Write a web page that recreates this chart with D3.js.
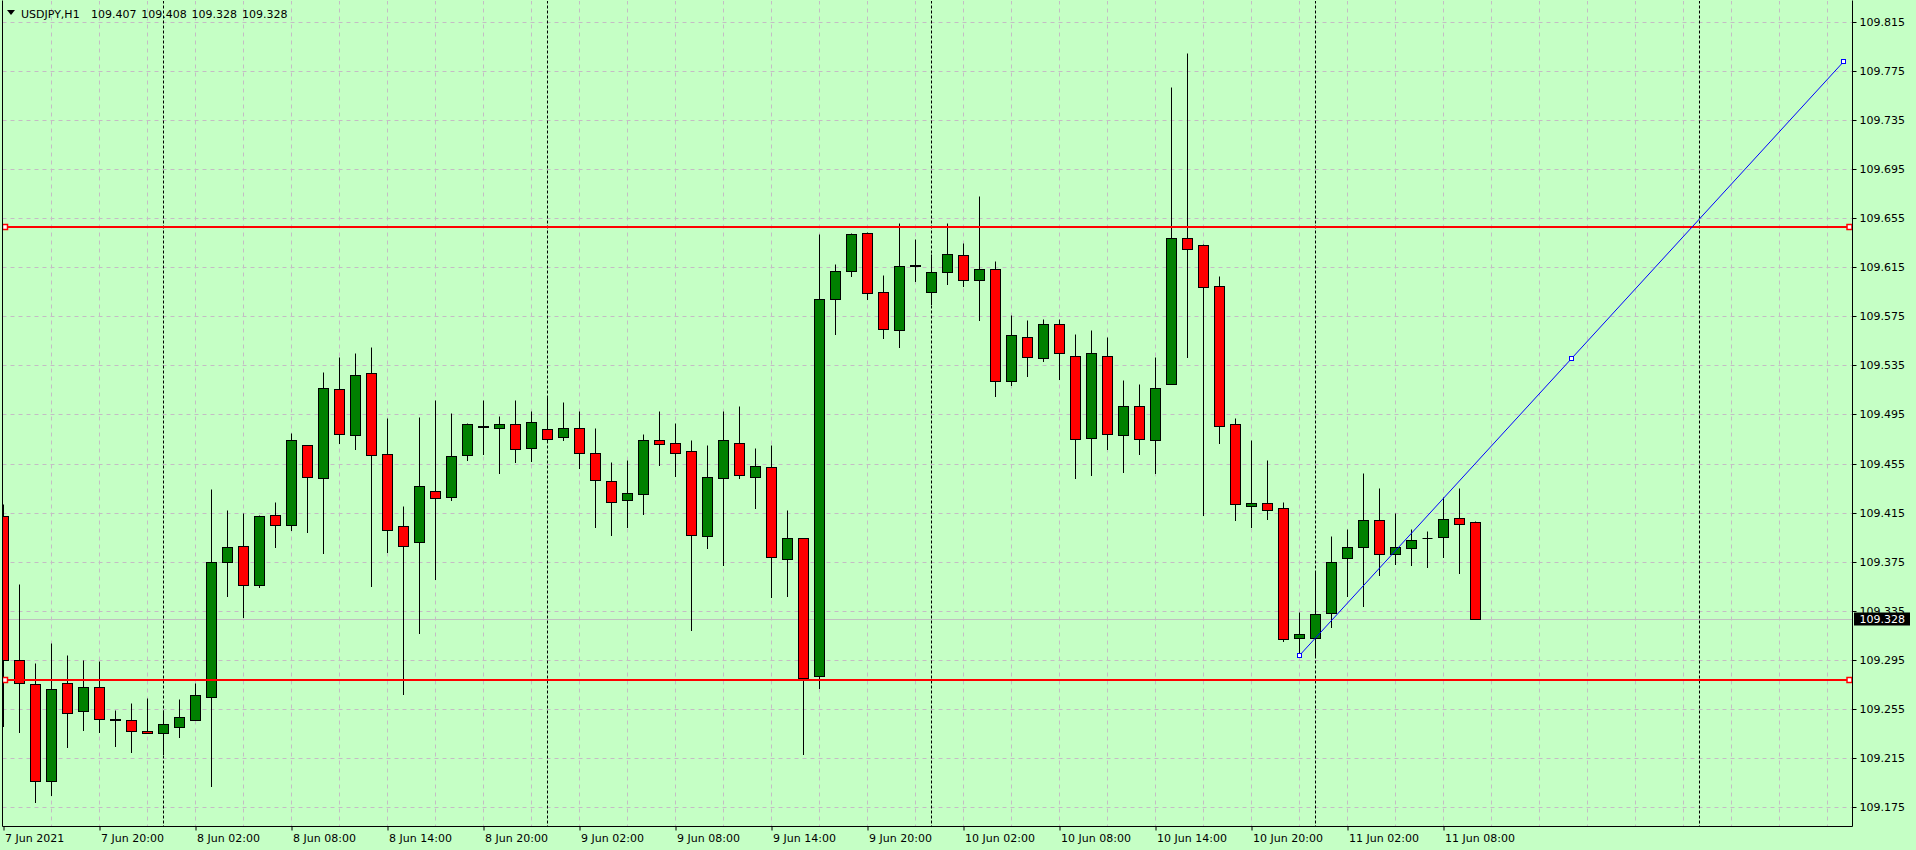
<!DOCTYPE html>
<html><head><meta charset="utf-8">
<script src="https://cdn.jsdelivr.net/npm/d3@7"></script>
<style>
html,body{margin:0;padding:0;background:#c5ffc5;overflow:hidden;}
svg{display:block;}
text{font-family:"DejaVu Sans",sans-serif;font-size:11px;}
</style></head><body>
<svg id="chart" width="1916" height="850"></svg>
<script>
// ---------------- data ----------------
const symbol = "USDJPY,H1";
const headerValues = ["109.407", "109.408", "109.328", "109.328"];
const open = [109.412,109.295,109.275,109.196,109.276,109.253,109.273,109.247,109.246,109.237,
109.235,109.240,109.246,109.265,109.375,109.388,109.356,109.413,109.405,109.470,
109.443,109.516,109.478,109.529,109.463,109.404,109.391,109.433,109.428,109.462,
109.486,109.484,109.487,109.468,109.483,109.477,109.484,109.464,109.441,109.425,
109.430,109.474,109.472,109.465,109.396,109.443,109.472,109.444,109.452,109.377,
109.394,109.282,109.589,109.612,109.643,109.595,109.564,109.616,109.595,109.611,
109.625,109.605,109.614,109.522,109.558,109.541,109.569,109.543,109.476,109.543,
109.478,109.502,109.474,109.520,109.639,109.633,109.600,109.487,109.420,109.423,
109.419,109.313,109.313,109.333,109.378,109.387,109.409,109.381,109.386,109.394,
109.395,109.411,109.407];
const high = [109.422,109.357,109.292,109.309,109.299,109.295,109.294,109.254,109.260,109.264,
109.254,109.263,109.276,109.434,109.417,109.415,109.413,109.424,109.480,109.470,
109.530,109.542,109.545,109.550,109.492,109.420,109.493,109.507,109.496,109.488,
109.507,109.494,109.507,109.498,109.509,109.505,109.498,109.484,109.456,109.458,
109.479,109.498,109.488,109.474,109.470,109.498,109.502,109.468,109.470,109.417,
109.394,109.642,109.618,109.643,109.644,109.609,109.651,109.638,109.626,109.651,
109.635,109.673,109.620,109.576,109.572,109.573,109.573,109.561,109.564,109.558,
109.523,109.520,109.542,109.762,109.790,109.634,109.608,109.492,109.474,109.458,
109.424,109.334,109.367,109.396,109.402,109.447,109.435,109.415,109.402,109.400,
109.428,109.435,109.408];
const low = [109.241,109.236,109.179,109.185,109.224,109.238,109.236,109.225,109.220,109.235,
109.218,109.232,109.246,109.192,109.347,109.330,109.354,109.387,109.401,109.399,
109.382,109.472,109.467,109.355,109.383,109.267,109.317,109.361,109.425,109.458,
109.463,109.447,109.456,109.457,109.474,109.474,109.451,109.403,109.397,109.403,
109.414,109.454,109.445,109.319,109.386,109.372,109.443,109.419,109.346,109.347,
109.218,109.272,109.561,109.608,109.589,109.557,109.550,109.604,109.585,109.601,
109.600,109.572,109.510,109.519,109.526,109.539,109.524,109.443,109.446,109.467,
109.448,109.463,109.447,109.520,109.542,109.413,109.472,109.409,109.403,109.410,
109.310,109.299,109.297,109.322,109.347,109.339,109.364,109.373,109.372,109.371,
109.379,109.366,109.328];
const close = [109.295,109.276,109.196,109.271,109.252,109.273,109.247,109.246,109.237,109.235,
109.243,109.248,109.266,109.375,109.387,109.356,109.412,109.405,109.474,109.444,
109.517,109.479,109.527,109.462,109.401,109.388,109.437,109.427,109.461,109.487,
109.485,109.487,109.467,109.489,109.475,109.484,109.464,109.442,109.424,109.431,
109.474,109.471,109.464,109.397,109.444,109.474,109.446,109.453,109.379,109.394,
109.280,109.589,109.612,109.642,109.594,109.565,109.616,109.617,109.611,109.626,
109.605,109.614,109.522,109.560,109.542,109.569,109.545,109.475,109.545,109.479,
109.502,109.475,109.517,109.639,109.630,109.599,109.486,109.422,109.423,109.417,
109.312,109.316,109.332,109.375,109.387,109.409,109.381,109.387,109.393,109.394,
109.410,109.406,109.328];
const xTickLabels = ["7 Jun 2021","7 Jun 20:00","8 Jun 02:00","8 Jun 08:00","8 Jun 14:00",
"8 Jun 20:00","9 Jun 02:00","9 Jun 08:00","9 Jun 14:00","9 Jun 20:00","10 Jun 02:00",
"10 Jun 08:00","10 Jun 14:00","10 Jun 20:00","11 Jun 02:00","11 Jun 08:00"];
const xTickBars = [0,6,12,18,24,30,36,42,48,54,60,66,72,78,84,90];
const daySeparatorBars = [10,34,58,82,106];
const yTickValues = [109.175,109.215,109.255,109.295,109.335,109.375,109.415,109.455,109.495,
109.535,109.575,109.615,109.655,109.695,109.735,109.775,109.815];
const hLevels = [109.648, 109.279];
const trendBars = [81, 98, 115];
const trendPrices = [109.299, 109.541, 109.783];
const lastPrice = 109.328;

// ---------------- layout ----------------
const W = 1916, H = 850;
const plotL = 2.5, plotR = 1852.5, plotT = 0.5, plotB = 826.5;
const N = open.length;
const bg = "#c5ffc5", gridColor = "#c4bcc4";

const svg = d3.select("#chart");
svg.append("rect").attr("width", W).attr("height", H).attr("fill", bg);

const x = d3.scaleLinear().domain([0, 1]).range([3.5, 19.5]);
const y = d3.scaleLinear().domain([109.175, 109.815]).range([807.5, 22.5]);
const snap = v => Math.round(v - 0.5) + 0.5;

svg.append("defs").append("clipPath").attr("id", "clip")
  .append("rect").attr("x", 3).attr("y", 1).attr("width", plotR - 3).attr("height", plotB - 1);

const plot = svg.append("g").attr("clip-path", "url(#clip)");

// grid
const gridBars = d3.range(3, 116, 3);
plot.append("g").selectAll("line").data(gridBars).join("line")
  .attr("x1", d => x(d)).attr("x2", d => x(d)).attr("y1", plotT).attr("y2", plotB)
  .attr("stroke", gridColor).attr("stroke-dasharray", "4,4");
plot.append("g").selectAll("line").data(yTickValues).join("line")
  .attr("x1", plotL).attr("x2", plotR).attr("y1", d => snap(y(d))).attr("y2", d => snap(y(d)))
  .attr("stroke", gridColor).attr("stroke-dasharray", "4,4");

// day separators
plot.append("g").selectAll("line").data(daySeparatorBars).join("line")
  .attr("x1", d => x(d)).attr("x2", d => x(d)).attr("y1", plotT).attr("y2", plotB)
  .attr("stroke", "#000").attr("stroke-dasharray", "3,2");

// last price line
plot.append("line").attr("x1", plotL).attr("x2", plotR)
  .attr("y1", snap(y(lastPrice))).attr("y2", snap(y(lastPrice)))
  .attr("stroke", "#c0c0c0");

// candles
const idx = d3.range(N);
plot.append("g").selectAll("line").data(idx).join("line")
  .attr("x1", i => x(i)).attr("x2", i => x(i))
  .attr("y1", i => snap(y(high[i]))).attr("y2", i => snap(y(low[i])) + 0.5)
  .attr("stroke", "#000");
plot.append("g").selectAll("rect").data(idx.filter(i => open[i] !== close[i])).join("rect")
  .attr("x", i => x(i) - 5).attr("width", 10)
  .attr("y", i => snap(y(Math.max(open[i], close[i]))))
  .attr("height", i => Math.max(1, snap(y(Math.min(open[i], close[i]))) - snap(y(Math.max(open[i], close[i])))))
  .attr("fill", i => close[i] > open[i] ? "#008000" : "#ff0000")
  .attr("stroke", "#000");
plot.append("g").selectAll("line").data(idx.filter(i => open[i] === close[i])).join("line")
  .attr("x1", i => x(i) - 5).attr("x2", i => x(i) + 5)
  .attr("y1", i => snap(y(open[i]))).attr("y2", i => snap(y(open[i])))
  .attr("stroke", "#000");

// horizontal levels
const lv = plot.append("g");
lv.selectAll("line").data(hLevels).join("line")
  .attr("x1", plotL).attr("x2", plotR).attr("y1", d => Math.round(y(d))).attr("y2", d => Math.round(y(d)))
  .attr("stroke", "#ff0000").attr("stroke-width", 2);
hLevels.forEach(v => {
  [5, 1849.5].forEach(px => {
    lv.append("rect").attr("x", px - 2.5).attr("y", Math.round(y(v)) - 2.5).attr("width", 5).attr("height", 5)
      .attr("fill", "#fff").attr("stroke", "#ff0000").attr("stroke-width", 1.5);
  });
});

// trend line
const tl = plot.append("g");
tl.append("line").attr("x1", x(trendBars[0])).attr("y1", y(trendPrices[0]))
  .attr("x2", x(trendBars[2])).attr("y2", y(trendPrices[2]))
  .attr("stroke", "#0000ff").attr("stroke-width", 1);
tl.selectAll("rect").data(d3.range(3)).join("rect")
  .attr("x", k => snap(x(trendBars[k])) - 2).attr("y", k => snap(y(trendPrices[k])) - 2)
  .attr("width", 4).attr("height", 4).attr("fill", "#fff").attr("stroke", "#0000ff");

// frame
svg.append("path")
  .attr("d", `M${plotL},${plotT}V${plotB}H${plotR}V${plotT}`)
  .attr("fill", "none").attr("stroke", "#000");

// right axis
const yAxis = d3.axisRight(y).tickValues(yTickValues).tickSize(4).tickPadding(3)
  .tickFormat(d3.format(".3f"));
const ya = svg.append("g").attr("transform", `translate(${plotR},0)`).call(yAxis);
ya.select(".domain").remove();
ya.selectAll(".tick").attr("transform", d => `translate(0,${snap(y(d))})`);
ya.selectAll("text").attr("fill", "#000").style("font-family", '"DejaVu Sans",sans-serif').style("font-size", "11px");

// bottom axis
const xAxis = d3.axisBottom(x).tickValues(xTickBars).tickSize(4).tickPadding(3.5)
  .tickFormat((d, k) => xTickLabels[k]);
const xa = svg.append("g").attr("transform", `translate(0,${plotB})`).call(xAxis);
xa.select(".domain").remove();
xa.selectAll("text").attr("text-anchor", "start").attr("x", 1).attr("fill", "#000")
  .style("font-family", '"DejaVu Sans",sans-serif').style("font-size", "11px");

// current price label
const cp = svg.append("g").attr("transform", `translate(1854,${snap(y(lastPrice))})`);
cp.append("rect").attr("x", 0).attr("y", -7).attr("width", 56).attr("height", 13).attr("fill", "#000");
cp.append("text").attr("x", 5.5).attr("dy", "0.35em").attr("fill", "#fff").text(d3.format(".3f")(lastPrice));

// header
const hd = svg.append("g");
hd.append("path").attr("d", "M7,10L15,10L11,15Z").attr("fill", "#000");
hd.append("text").attr("x", 21).attr("y", 17.5).attr("fill", "#000").text(symbol);
hd.selectAll("text.v").data(headerValues).join("text").attr("class", "v")
  .attr("x", (d, k) => 91 + k * 50.3).attr("y", 17.5).attr("fill", "#000").text(d => d);
</script>
</body></html>
